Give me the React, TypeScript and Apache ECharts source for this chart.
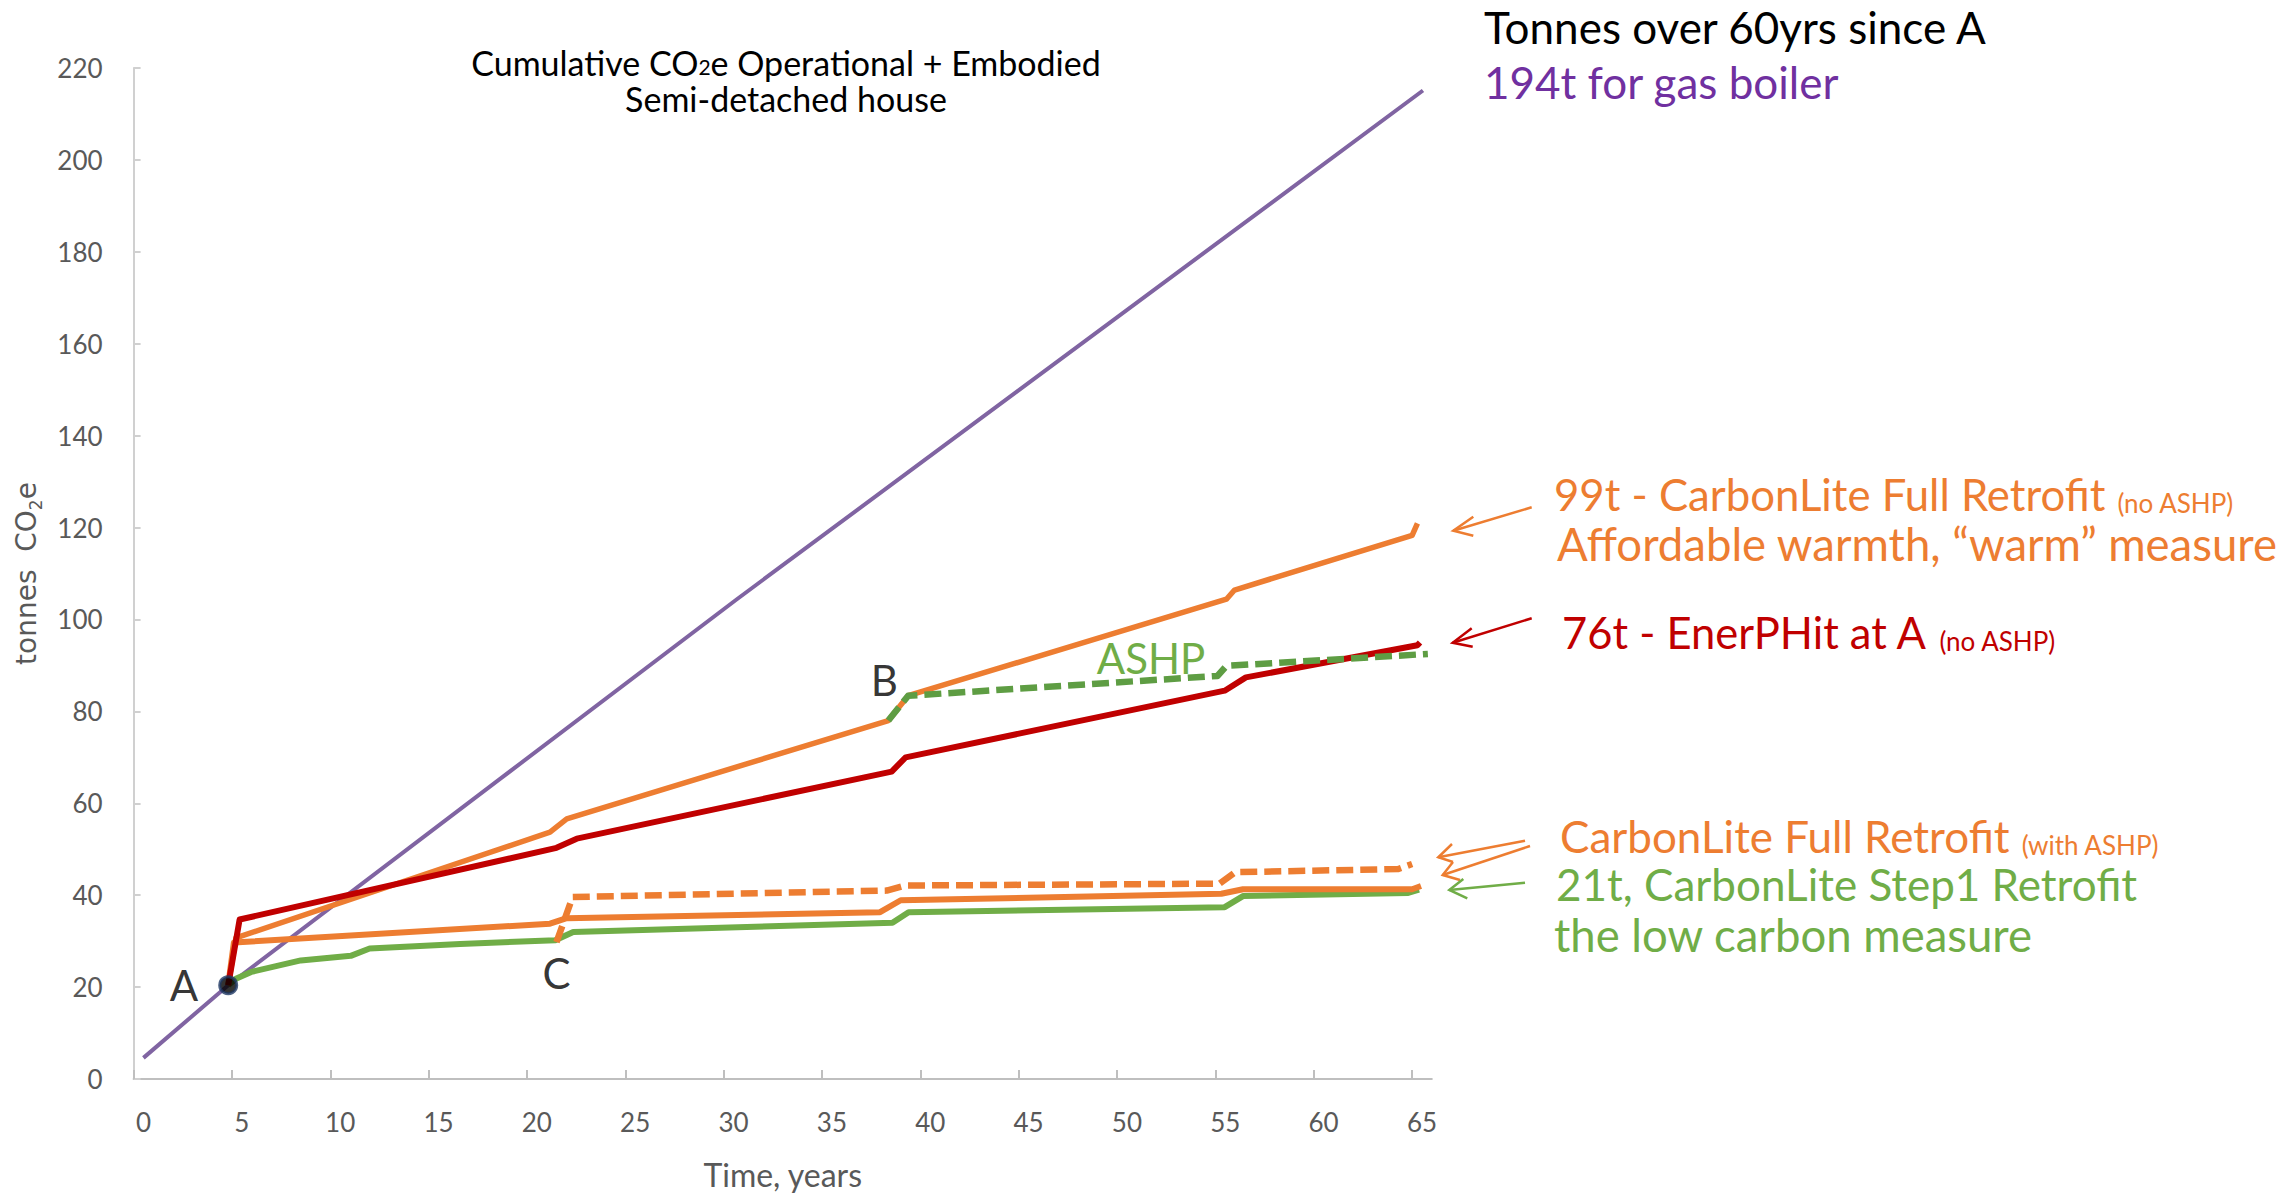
import React, { useEffect, useRef } from "react";
import * as echarts from "echarts";

// X axis: one category per year; labels sit on the year, ticks on the boundaries between years
const xLabelYears = [0, 5, 10, 15, 20, 25, 30, 35, 40, 45, 50, 55, 60, 65];
const xTickYears = [-0.5, 4.5, 9.5, 14.5, 19.5, 24.5, 29.5, 34.5, 39.5, 44.5, 49.5, 54.5, 59.5, 64.5];

// Gas boiler
const gasYears = [0, 4.31, 18.13, 30.17, 65.05];
const gasTonnes = [4.6, 20.4, 65.3, 104.4, 215.1];

// CarbonLite Full Retrofit (no ASHP)
const fullRetrofitYears = [4.31, 4.7, 20.67, 21.52, 37.87, 38.88, 55.06, 55.47, 64.5, 64.77];
const fullRetrofitTonnes = [20.4, 30.7, 53.7, 56.6, 78.0, 83.4, 104.4, 106.4, 118.3, 120.9];

// EnerPHit at A (no ASHP)
const enerphitYears = [4.31, 4.89, 21.0, 22.03, 38.04, 38.75, 54.97, 56.05, 64.77, 64.9];
const enerphitTonnes = [20.4, 34.7, 50.3, 52.3, 66.9, 70.0, 84.5, 87.4, 94.4, 95.0];

// ASHP fitted at B
const ashpYears = [37.87, 38.88, 54.6, 55.06, 65.3];
const ashpTonnes = [78.0, 83.4, 87.7, 89.9, 92.5];

// CarbonLite Full Retrofit (with ASHP), branch from C
const fullAshpYears = [21.0, 21.82, 37.79, 38.7, 54.7, 55.5, 63.8, 64.5];
const fullAshpTonnes = [29.8, 39.6, 41.0, 42.1, 42.5, 45.0, 45.7, 46.8];

// CarbonLite Full Retrofit (with ASHP), from A
const fullLowYears = [4.31, 4.6, 20.67, 21.52, 37.45, 38.5, 54.8, 55.9, 64.5, 64.95];
const fullLowTonnes = [20.4, 29.7, 33.8, 35.0, 36.3, 38.9, 40.3, 41.3, 41.3, 42.0];

// CarbonLite Step1 Retrofit
const step1Years = [4.31, 4.7, 5.48, 8.0, 10.54, 11.5, 16.1, 20.94, 21.85, 38.08, 38.9, 54.97, 55.9, 64.3, 64.85];
const step1Tonnes = [20.4, 21.8, 23.3, 25.8, 26.8, 28.4, 29.4, 30.2, 32.0, 34.0, 36.3, 37.4, 39.8, 40.5, 41.2];

// Milestones
const milestoneNames = ["A", "B", "C"];
const milestoneYears = [4.31, 37.87, 21.0];
const milestoneTonnes = [20.4, 78.0, 29.8];

const ORANGE = "#ED7D31";
const RED = "#C00000";
const GREEN = "#70AD47";
const GREEN_DARK = "#5E9D43";
const PURPLE_LINE = "#8064A2";
const PURPLE_TEXT = "#7030A0";
const AXIS_TEXT = "#595959";
const FONT = "Lato, 'Noto Sans', sans-serif";

const zip = (xs: number[], ys: number[]) => xs.map((x, i) => [x, ys[i]]);

function lineSeries(name: string, xs: number[], ys: number[], color: string, width: number, dashed = false) {
  return {
    name,
    type: "line",
    data: zip(xs, ys),
    showSymbol: false,
    symbol: "none",
    lineStyle: {
      color,
      width,
      type: dashed ? [17, 7] : "solid",
      join: "round",
      cap: "butt",
    },
  };
}

function arrow(x1: number, y1: number, x2: number, y2: number, a1: number[], a2: number[], color: string) {
  return {
    type: "group",
    children: [
      { type: "line", shape: { x1, y1, x2, y2 }, style: { stroke: color, lineWidth: 2.5 } },
      { type: "polyline", shape: { points: [a1, [x2, y2], a2] }, style: { stroke: color, lineWidth: 2.5, fill: null } },
    ],
  };
}

function note(x: number, y: number, text: string, color: string, size: number, small?: string) {
  return {
    type: "text",
    x,
    y,
    style: {
      text: small ? `{a|${text}}{s|${small}}` : `{a|${text}}`,
      verticalAlign: "middle",
      align: "left",
      rich: {
        a: { fontFamily: FONT, fontSize: size, lineHeight: size, fill: color },
        s: { fontFamily: FONT, fontSize: 26, lineHeight: 40, verticalAlign: "bottom", padding: [0, 0, 0, 12], fill: color },
      },
    },
  };
}

function titleLine(y: number, text: string) {
  return {
    type: "text",
    x: 786,
    y,
    style: {
      text,
      align: "center",
      verticalAlign: "middle",
      rich: {
        a: { fontFamily: FONT, fontSize: 34, lineHeight: 29, fill: "#000000" },
        s: { fontFamily: FONT, fontSize: 21, lineHeight: 18, verticalAlign: "bottom", fill: "#000000" },
      },
    },
  };
}

export default function App() {
  const ref = useRef<HTMLDivElement>(null);

  useEffect(() => {
    if (!ref.current) return;
    const chart = echarts.init(ref.current, undefined, { renderer: "svg" });

    const option = {
      animation: false,
      backgroundColor: "#ffffff",
      grid: { left: 133.6, right: 857.2, top: 68, bottom: 114.5, containLabel: false },
      xAxis: {
        type: "value",
        min: -0.5,
        max: 65.5,
        name: "Time, years",
        nameLocation: "middle",
        nameGap: 79,
        nameTextStyle: { fontFamily: FONT, fontSize: 32, color: AXIS_TEXT },
        axisLine: { show: true, onZero: false, lineStyle: { color: "#BFBFBF", width: 2 } },
        axisTick: { show: true, inside: true, length: 9, customValues: xTickYears, lineStyle: { color: "#BFBFBF", width: 2 } },
        axisLabel: { customValues: xLabelYears, margin: 30, fontFamily: FONT, fontSize: 26, color: AXIS_TEXT },
        splitLine: { show: false },
      },
      yAxis: {
        type: "value",
        min: 0,
        max: 220,
        interval: 20,
        name: "{a|tonnes  CO}{s|2}{a|e}",
        nameLocation: "middle",
        nameRotate: 90,
        nameGap: 89,
        nameTextStyle: {
          rich: {
            a: { fontFamily: "'DejaVu Sans', sans-serif", fontSize: 28, lineHeight: 36, color: AXIS_TEXT },
            s: { fontFamily: "'DejaVu Sans', sans-serif", fontSize: 17, lineHeight: 18, verticalAlign: "bottom", color: AXIS_TEXT },
          },
        },
        axisLine: { show: true, onZero: false, lineStyle: { color: "#D0D0D0", width: 2 } },
        axisTick: { show: true, inside: true, length: 7, lineStyle: { color: "#D0D0D0", width: 2 } },
        axisLabel: { margin: 31, fontFamily: FONT, fontSize: 26, color: AXIS_TEXT },
        splitLine: { show: false },
      },
      series: [
        lineSeries("Gas boiler", gasYears, gasTonnes, PURPLE_LINE, 4),
        lineSeries("CarbonLite Step1 Retrofit", step1Years, step1Tonnes, GREEN, 6),
        lineSeries("CarbonLite Full Retrofit (with ASHP)", fullLowYears, fullLowTonnes, ORANGE, 6),
        lineSeries("CarbonLite Full Retrofit (with ASHP) from C", fullAshpYears, fullAshpTonnes, ORANGE, 6.5, true),
        lineSeries("CarbonLite Full Retrofit (no ASHP)", fullRetrofitYears, fullRetrofitTonnes, ORANGE, 5.5),
        lineSeries("EnerPHit at A (no ASHP)", enerphitYears, enerphitTonnes, RED, 6),
        lineSeries("ASHP", ashpYears, ashpTonnes, GREEN_DARK, 6.5, true),
        {
          name: "Milestones",
          type: "scatter",
          z: 5,
          data: milestoneNames.map((n, i) => ({
            name: n,
            value: [milestoneYears[i], milestoneTonnes[i]],
            symbolSize: n === "A" ? 17 : 0,
            label: {
              show: true,
              formatter: n,
              position: n === "A" ? "left" : n === "B" ? "top" : "bottom",
              distance: n === "A" ? 20 : n === "B" ? 20 : 10,
              offset: n === "B" ? [-4, 0] : [0, 0],
              fontFamily: FONT,
              fontSize: 42,
              color: "#000000",
            },
          })),
          itemStyle: { color: "#000000", borderColor: "#1F3864", borderWidth: 3 },
        },
      ],
      graphic: [
        titleLine(62, "{a|Cumulative CO}{s|2}{a|e Operational + Embodied}"),
        titleLine(98, "{a|Semi-detached house}"),
        {
          type: "text",
          x: 1151,
          y: 658,
          style: { text: "ASHP", fontFamily: FONT, fontSize: 42, fill: GREEN, align: "center", verticalAlign: "middle" },
        },
        note(1484, 27, "Tonnes over 60yrs since A", "#000000", 44),
        note(1484, 82, "194t for gas boiler", PURPLE_TEXT, 44),
        note(1554, 494, "99t - CarbonLite Full Retrofit", ORANGE, 43.7, "(no ASHP)"),
        note(1557, 543, "Affordable warmth, \u201Cwarm\u201D measure", ORANGE, 45.5),
        note(1562, 632, "76t - EnerPHit at A", RED, 43.5, "(no ASHP)"),
        note(1560, 836, "CarbonLite Full Retrofit", ORANGE, 44, "(with ASHP)"),
        note(1556, 884, "21t, CarbonLite Step1 Retrofit", GREEN, 44),
        note(1554, 934, "the low carbon measure", GREEN, 45.5),
        arrow(1531.7, 507.3, 1453.3, 530.7, [1473.3, 516.7], [1473.3, 535.7], ORANGE),
        arrow(1531.7, 618.3, 1452.7, 642.7, [1471.7, 628.3], [1472.7, 646.7], RED),
        arrow(1525, 840.7, 1438.3, 857.3, [1452, 844], [1453, 862], ORANGE),
        arrow(1530, 846, 1442.7, 875, [1453, 862], [1460, 880], ORANGE),
        arrow(1525, 882.7, 1449.3, 890, [1463.3, 879], [1467.3, 898.3], GREEN),
      ],
    };

    chart.setOption(option as any);
    return () => chart.dispose();
  }, []);

  return (
    <div
      ref={ref}
      style={{ position: "fixed", left: 0, top: 0, width: 2289, height: 1195, background: "#ffffff" }}
    />
  );
}
